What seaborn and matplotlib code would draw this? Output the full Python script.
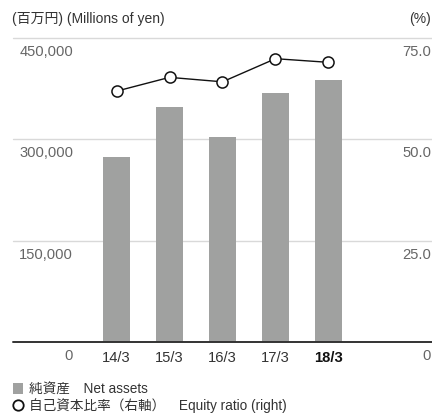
import numpy as np
import matplotlib
matplotlib.use("Agg")
import matplotlib.pyplot as plt
import matplotlib.transforms as mtransforms
from matplotlib.patches import Patch
from matplotlib.lines import Line2D
import seaborn as sns

# ---- data ----
years = ["14/3", "15/3", "16/3", "17/3", "18/3"]
net_assets = [274000, 348000, 304000, 368000, 388000]          # millions of yen
equity_ratio = [61.9, 65.3, 64.2, 69.9, 69.0]                   # %
left_ticks = [0, 150000, 300000, 450000]
left_labels = ["0", "150,000", "300,000", "450,000"]
right_ticks = [0, 25, 50, 75]
right_labels = ["0", "25.0", "50.0", "75.0"]

BAR_COLOR = "#a0a1a0"
GRID_COLOR = "#d9d9d9"
LABEL_COLOR = "#666666"
TEXT_COLOR = "#333333"

sns.set_theme(style="white")
plt.rcParams["font.family"] = ["Liberation Sans", "Noto Sans CJK JP"]

W, H = 432, 413
fig = plt.figure(figsize=(W / 100, H / 100), dpi=100)
ax_left = 13 / W
ax_bottom = (H - 342.3) / H
ax_top = (H - 38) / H
ax = fig.add_axes([ax_left, ax_bottom, 1.0 - ax_left, ax_top - ax_bottom])

sns.barplot(x=years, y=net_assets, color=BAR_COLOR, width=0.51, ax=ax,
            saturation=1, zorder=2)
for p in ax.patches:
    p.set_facecolor(BAR_COLOR)
    p.set_edgecolor("none")

ax.set_xlim(-1.953, 5.953)
ax.set_ylim(0, left_ticks[-1])

# grid lines
for t in left_ticks[1:]:
    ax.axhline(t, color=GRID_COLOR, lw=1.0, zorder=1, clip_on=False)
ax.axhline(0, color=TEXT_COLOR, lw=1.4, zorder=3, clip_on=False)

for s in ax.spines.values():
    s.set_visible(False)
ax.set_yticks([])
ax.set_xticks(range(len(years)))
ax.set_xticklabels(years)
ax.tick_params(axis="x", length=0, pad=6.5, labelsize=10.6, labelcolor=TEXT_COLOR)
for lab in ax.get_xticklabels():
    if lab.get_text() == years[-1]:
        lab.set_fontweight("bold")
        lab.set_color("#111111")
ax.set_xlabel("")
ax.set_ylabel("")

# right axis with equity ratio
ax2 = ax.twinx()
ax2.set_ylim(0, right_ticks[-1])
ax2.plot(np.arange(len(years)), equity_ratio, color="#111111", lw=1.0,
         marker="o", markersize=8, markerfacecolor="white",
         markeredgecolor="#111111", markeredgewidth=1.1, zorder=4)
for s in ax2.spines.values():
    s.set_visible(False)
ax2.set_yticks([])
ax.set_zorder(1)
ax2.set_zorder(2)

# y tick labels placed below their grid lines
off = mtransforms.ScaledTranslation(0, -14 / 100, fig.dpi_scale_trans)
x_left_lab = (73 - 13) / (W - 13)
x_right_lab = (431 - 13) / (W - 13)
trans_l = mtransforms.blended_transform_factory(ax.transAxes, ax.transData) + off
trans_r = mtransforms.blended_transform_factory(ax2.transAxes, ax2.transData) + off
for t, l in zip(left_ticks, left_labels):
    ax.text(x_left_lab, t, l, transform=trans_l, ha="right", va="center",
            fontsize=10.6, color=LABEL_COLOR, clip_on=False)
for t, l in zip(right_ticks, right_labels):
    ax2.text(x_right_lab, t, l, transform=trans_r, ha="right", va="center",
             fontsize=10.6, color=LABEL_COLOR, clip_on=False)

# header texts
fig.text(12 / W, 1 - 19 / H, "(百万円) (Millions of yen)", ha="left", va="center",
         fontsize=10.0, color=TEXT_COLOR)
fig.text(431 / W, 1 - 19 / H, "(%)", ha="right", va="center",
         fontsize=10.0, color=TEXT_COLOR)

# legend
handles = [
    Patch(facecolor=BAR_COLOR, edgecolor="none"),
    Line2D([], [], ls="none", marker="o", markersize=7.5, markerfacecolor="white",
           markeredgecolor="#111111", markeredgewidth=1.3),
]
labels = ["純資産　Net assets", "自己資本比率（右軸）　Equity ratio (right)"]
leg = fig.legend(handles, labels, loc="upper left",
                 bbox_to_anchor=(3 / W, 1 - 373 / H), frameon=False,
                 fontsize=9.8, handlelength=0.8, handleheight=0.9,
                 handletextpad=0.4, labelspacing=0.15, borderpad=0.2)
for txt in leg.get_texts():
    txt.set_color(TEXT_COLOR)

fig.savefig("out.png", dpi=100)
